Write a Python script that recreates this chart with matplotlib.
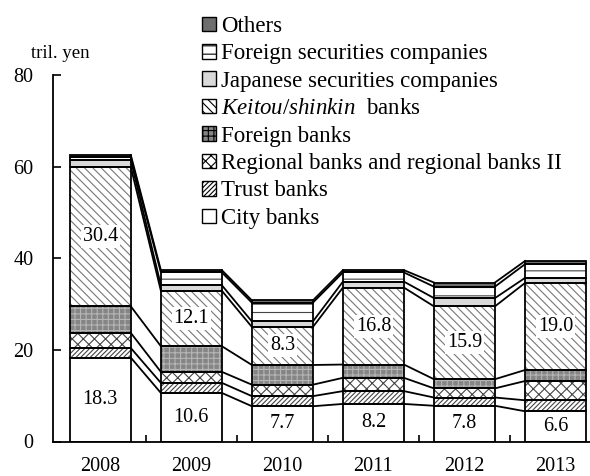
import matplotlib.pyplot as plt
from matplotlib.patches import Patch
import numpy as np

plt.rcParams['font.family'] = ['Liberation Serif', 'DejaVu Serif']
plt.rcParams['mathtext.fontset'] = 'custom'
plt.rcParams['mathtext.rm'] = 'Liberation Serif'
plt.rcParams['mathtext.it'] = 'Liberation Serif:italic'
plt.rcParams['hatch.linewidth'] = 0.8

# data (tril. yen)
years = ['2008', '2009', '2010', '2011', '2012', '2013']
city = [18.3, 10.6, 7.7, 8.2, 7.8, 6.6]
trust = [2.1, 2.2, 2.2, 2.8, 1.8, 2.4]
regional = [3.3, 2.4, 2.5, 2.9, 2.0, 4.2]
foreign_banks = [5.8, 5.6, 4.3, 2.9, 2.0, 2.4]
keitou = [30.4, 12.1, 8.3, 16.8, 15.9, 19.0]
jp_sec = [1.5, 1.2, 1.2, 1.3, 1.8, 1.1]
fr_sec = [0.7, 2.8, 4.1, 2.0, 2.5, 3.0]
others = [0.4, 0.5, 0.5, 0.5, 0.9, 0.7]

names = ['City banks', 'Trust banks', 'Regional banks and regional banks II',
         'Foreign banks', r'$\mathit{Keitou/shinkin}$  banks',
         'Japanese securities companies', 'Foreign securities companies', 'Others']
series = [city, trust, regional, foreign_banks, keitou, jp_sec, fr_sec, others]

# style per series: face colour, hatch, hatch colour
faces = ['white', 'white', 'white', '#858585', 'white', '#d9d9d9', 'white', '#6e6e6e']
hatches = [None, '///////', 'xxx', '+++', '\\\\\\\\', None, '--', None]
hcols = ['black', '#444444', '#444444', '#b5b5b5', '#777777', 'black', '#444444', 'black']
labelled = [0, 4]

fig = plt.figure(figsize=(5.9, 4.76), dpi=100)
ax = fig.add_axes([53 / 590, 34.5 / 476, 548 / 590, 366.5 / 476])

x = np.arange(len(years))
w = 0.67
bottom = np.zeros(len(years))
tops = []
for k, vals in enumerate(series):
    vals = np.array(vals)
    ax.bar(x, vals, w, bottom=bottom, color=faces[k], hatch=hatches[k],
           edgecolor=hcols[k], linewidth=0, zorder=2)
    ax.bar(x, vals, w, bottom=bottom, facecolor='none', edgecolor='black',
           linewidth=1.3, zorder=3)
    if k in labelled:
        for i in range(len(x)):
            ax.text(x[i], bottom[i] + vals[i] / 2, f'{vals[i]:.1f}', ha='center',
                    va='center', fontsize=14.5, zorder=4,
                    bbox=dict(facecolor='white', edgecolor='none', pad=1.5))
    bottom = bottom + vals
    tops.append(bottom.copy())

# series lines between bars
for t in tops:
    for i in range(len(x) - 1):
        ax.plot([x[i] + w / 2, x[i + 1] - w / 2], [t[i], t[i + 1]],
                color='black', linewidth=1.3, zorder=3)

ax.set_xlim(-0.52, 5.5)
ax.set_ylim(0, 80)
ax.set_yticks([0, 20, 40, 60, 80])
ax.set_xticks(x)
ax.set_xticklabels(years)
ax.set_xticks(x[:-1] + 0.5, minor=True)
ax.tick_params(axis='x', which='major', length=0, labelsize=14.5, pad=11)
ax.tick_params(axis='x', which='minor', direction='in', length=5, width=1.2)
ax.tick_params(axis='y', direction='in', length=6, width=1.2, labelsize=14.5, pad=14)
for s in ['top', 'right']:
    ax.spines[s].set_visible(False)
for s in ['left', 'bottom']:
    ax.spines[s].set_linewidth(1.3)

fig.text(60 / 590, 1 - 53 / 476, 'tril. yen', ha='center', va='center', fontsize=13.5)

handles = [Patch(facecolor=faces[k], hatch=hatches[k], edgecolor='black', linewidth=1)
           for k in range(len(series))]
leg = fig.legend(handles[::-1], names[::-1], loc='upper left',
                 bbox_to_anchor=(202 / 590, 1 - 16 / 476), frameon=False,
                 fontsize=16.5, handlelength=0.6, handleheight=0.6,
                 handletextpad=0.25, labelspacing=0.28, borderpad=0,
                 borderaxespad=0)

fig.savefig('out.png', dpi=100)
